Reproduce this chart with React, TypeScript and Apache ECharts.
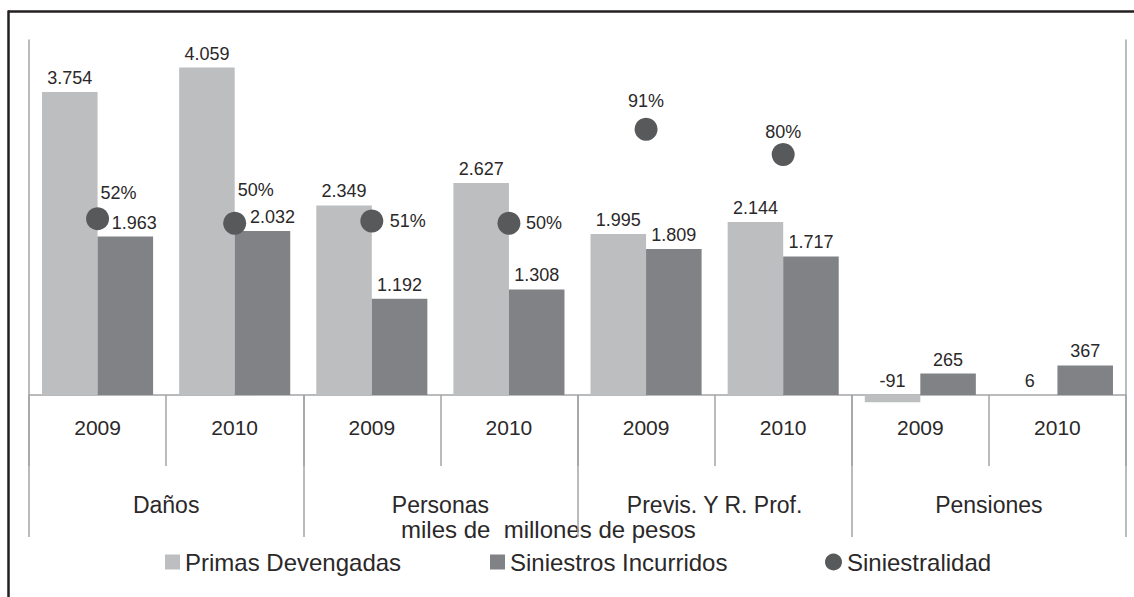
import React, { useEffect, useRef } from "react";
import * as echarts from "echarts";

const years = ["2009", "2010", "2009", "2010", "2009", "2010", "2009", "2010"];
const groups = ["Daños", "Personas", "Previs. Y R. Prof.", "Pensiones"];
const primas = [3754, 4059, 2349, 2627, 1995, 2144, -91, 6];
const siniestros = [1963, 2032, 1192, 1308, 1809, 1717, 265, 367];
const siniestralidad: (number | null)[] = [52, 50, 51, 50, 91, 80, null, null];
const subtitle = "miles de  millones de pesos";

// label offsets (styling only)
const dotLabelOffsets: [number, number][] = [
  [21, -26],
  [21, -33],
  [36, 0],
  [35, 0],
  [0, -28],
  [0, -23],
  [0, 0],
  [0, 0],
];
const siniestrosLabelOffsets: [number, number][] = [
  [9, 0],
  [10, 0],
  [0, 0],
  [0, 0],
  [0, 0],
  [0, 0],
  [0, 0],
  [0, 0],
];

const TEXT = "#2b2829";
const AXIS = "#a2a4a7";
const LIGHT = "#bcbec0";
const DARK = "#808285";
const DOT = "#58595b";
const FONT = "'Liberation Sans', Arial, sans-serif";

const fmt = (v: number) => {
  const s = String(Math.abs(v)).replace(/\B(?=(\d{3})+(?!\d))/g, ".");
  return (v < 0 ? "-" : "") + s;
};

export default function App() {
  const ref = useRef<HTMLDivElement>(null);
  useEffect(() => {
    if (!ref.current) return;
    const chart = echarts.init(ref.current, undefined, { renderer: "svg" });
    const legendText = { fontSize: 24, color: TEXT, fontFamily: FONT };
    chart.setOption({
      animation: false,
      textStyle: { fontFamily: FONT, color: TEXT },
      grid: { left: 29, right: 8, top: 40, bottom: 202, containLabel: false },
      xAxis: [
        {
          type: "category",
          data: years,
          position: "bottom",
          axisLine: { show: true, onZero: false, lineStyle: { color: AXIS, width: 1.5 } },
          axisTick: { show: true, interval: 0, length: 71, lineStyle: { color: AXIS, width: 1.5 } },
          axisLabel: { interval: 0, fontSize: 21, color: TEXT, margin: 22, fontFamily: FONT },
        },
        {
          type: "category",
          data: groups,
          position: "bottom",
          axisLine: { show: false, onZero: false },
          axisTick: { show: true, interval: 0, length: 142, lineStyle: { color: AXIS, width: 1.5 } },
          axisLabel: { interval: 0, fontSize: 23, color: TEXT, margin: 98, fontFamily: FONT },
        },
      ],
      yAxis: [
        {
          type: "value",
          min: 0,
          max: 4400,
          axisLine: { show: true, lineStyle: { color: AXIS, width: 1.5 } },
          axisTick: { show: false },
          axisLabel: { show: false },
          splitLine: { show: false },
        },
        {
          type: "value",
          position: "right",
          min: -25,
          max: 130,
          axisLine: { show: true, lineStyle: { color: AXIS, width: 1.5 } },
          axisTick: { show: false },
          axisLabel: { show: false },
          splitLine: { show: false },
        },
      ],
      legend: [
        {
          data: [{ name: "Primas Devengadas", icon: "rect" }],
          left: 165,
          top: 550,
          itemWidth: 15,
          itemHeight: 15,
          padding: 0,
          textStyle: legendText,
        },
        {
          data: [{ name: "Siniestros Incurridos", icon: "rect" }],
          left: 490,
          top: 550,
          itemWidth: 15,
          itemHeight: 15,
          padding: 0,
          textStyle: legendText,
        },
        {
          data: [{ name: "Siniestralidad", icon: "circle" }],
          left: 825,
          top: 550,
          itemWidth: 17,
          itemHeight: 17,
          padding: 0,
          textStyle: legendText,
        },
      ],
      graphic: [
        {
          type: "line",
          shape: { x1: 8, y1: 11.5, x2: 1134, y2: 11.5 },
          style: { stroke: "#231f20", lineWidth: 2.5 },
        },
        {
          type: "line",
          shape: { x1: 8.5, y1: 10.5, x2: 8.5, y2: 597 },
          style: { stroke: "#231f20", lineWidth: 2.5 },
        },
        {
          type: "text",
          left: 549 - 148,
          top: 517,
          style: { text: subtitle, fontSize: 24, fill: TEXT, fontFamily: FONT },
        },
      ],
      series: [
        {
          name: "Primas Devengadas",
          type: "bar",
          xAxisIndex: 0,
          yAxisIndex: 0,
          data: primas,
          barGap: "0%",
          barCategoryGap: "19%",
          clip: false,
          itemStyle: { color: LIGHT },
          label: {
            show: true,
            position: "top",
            distance: 5,
            fontSize: 18,
            color: TEXT,
            fontFamily: FONT,
            formatter: (p: any) => fmt(p.value),
          },
        },
        {
          name: "Siniestros Incurridos",
          type: "bar",
          xAxisIndex: 0,
          yAxisIndex: 0,
          data: siniestros.map((v, i) => ({
            value: v,
            label: { offset: siniestrosLabelOffsets[i] },
          })),
          barGap: "0%",
          barCategoryGap: "19%",
          clip: false,
          itemStyle: { color: DARK },
          label: {
            show: true,
            position: "top",
            distance: 5,
            fontSize: 18,
            color: TEXT,
            fontFamily: FONT,
            formatter: (p: any) => fmt(p.value),
          },
        },
        {
          name: "Siniestralidad",
          type: "scatter",
          xAxisIndex: 0,
          yAxisIndex: 1,
          z: 5,
          symbol: "circle",
          symbolSize: 23,
          itemStyle: { color: DOT, opacity: 1 },
          data: siniestralidad.map((v, i) => ({
            value: v,
            label: { offset: dotLabelOffsets[i] },
          })),
          label: {
            show: true,
            position: "inside",
            fontSize: 18,
            color: TEXT,
            opacity: 1,
            textBorderWidth: 0,
            textBorderColor: "transparent",
            fontFamily: FONT,
            formatter: (p: any) => p.value + "%",
          },
        },
      ],
    });
    return () => chart.dispose();
  }, []);
  return (
    <div
      ref={ref}
      style={{ position: "absolute", left: 0, top: 0, width: 1134, height: 597, background: "#fff" }}
    />
  );
}
